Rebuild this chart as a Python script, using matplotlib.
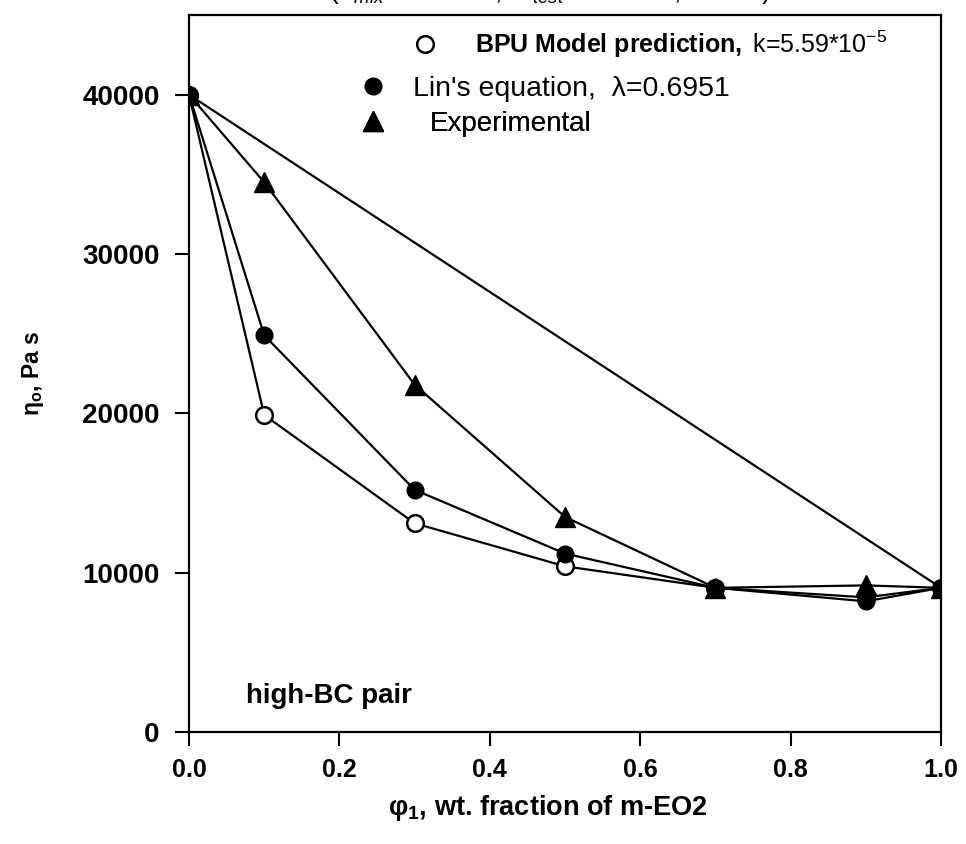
import matplotlib
matplotlib.use('Agg')
import matplotlib.pyplot as plt
from matplotlib.lines import Line2D

# ==========================================
# 数据
# ==========================================
phi = [0.0, 0.1, 0.3, 0.5, 0.7, 0.9, 1.0]
eta_bpu = [40000, 19900, 13100, 10400, 9050, 8450, 9050]
eta_lin = [40000, 24900, 15200, 11200, 9050, 8200, 9050]
eta_exp = [40000, 34500, 21800, 13500, 9050, 9200, 9050]

# 两端直线 (线性加和)
phi_ends = [0.0, 1.0]
eta_ends = [40000, 9050]

x_ticks = [0.0, 0.2, 0.4, 0.6, 0.8, 1.0]
y_ticks = [0, 10000, 20000, 30000, 40000]

label_bpu = r'$\mathbf{BPU\ Model\ prediction,}$ k=5.59*10$^{-5}$'
label_lin = "Lin's equation,  λ=0.6951"
label_exp = 'Experimental'

# 图表全局设置
plt.rcParams['font.family'] = ['Liberation Sans', 'DejaVu Sans']
plt.rcParams['mathtext.fontset'] = 'custom'
plt.rcParams['mathtext.rm'] = 'Liberation Sans'
plt.rcParams['mathtext.it'] = 'Liberation Sans:italic'
plt.rcParams['mathtext.bf'] = 'Liberation Sans:bold'

fig = plt.figure(figsize=(9.66, 8.44), dpi=100)
ax = fig.add_axes([189 / 966, 112 / 844, 752 / 966, 717 / 844])

lw = 1.6
ax.plot(phi_ends, eta_ends, color='black', linewidth=lw, zorder=2)
ax.plot(phi, eta_bpu, color='black', linewidth=lw, marker='o', markersize=12,
        markerfacecolor='white', markeredgecolor='black', markeredgewidth=1.8, zorder=3)
ax.plot(phi, eta_lin, color='black', linewidth=lw, marker='o', markersize=12,
        markerfacecolor='black', markeredgecolor='black', zorder=4)
ax.plot(phi, eta_exp, color='black', linewidth=lw, marker='^', markersize=14,
        markerfacecolor='black', markeredgecolor='black', zorder=5)

ax.set_xlim(0, 1.0)
ax.set_ylim(0, 45000)
ax.set_xticks(x_ticks)
ax.set_xticklabels([f'{v:.1f}' for v in x_ticks])
ax.set_yticks(y_ticks)
ax.tick_params(axis='both', direction='out', length=10, width=1.5)
ax.tick_params(axis='x', pad=9, labelsize=18)
ax.tick_params(axis='y', pad=11, labelsize=20)
for lab in ax.get_xticklabels() + ax.get_yticklabels():
    lab.set_fontweight('bold')
for sp in ax.spines.values():
    sp.set_linewidth(1.6)

ax.set_xlabel('φ$_\\mathbf{1}$, wt. fraction of m-EO2', fontsize=19.5, fontweight='bold')
ax.xaxis.set_label_coords(0.477, -0.085)
ax.set_ylabel('η$_\\mathbf{o}$, Pa s', fontsize=16.5, fontweight='bold')
ax.yaxis.set_label_coords(-0.19, 0.5)

ax.text(0.076, 0.05, 'high-BC pair', transform=ax.transAxes, fontsize=20,
        fontweight='bold', ha='left', va='center')

# 图例 (只有标记，无线条)，三行分别放置
handle_bpu = Line2D([], [], linestyle='none', marker='o', markersize=12, markerfacecolor='white',
                    markeredgecolor='black', markeredgewidth=1.8)
handle_lin = Line2D([], [], linestyle='none', marker='o', markersize=12, markerfacecolor='black',
                    markeredgecolor='black')
handle_exp = Line2D([], [], linestyle='none', marker='^', markersize=14, markerfacecolor='black',
                    markeredgecolor='black')

legend_rows = [
    (handle_bpu, label_bpu, 18, 1.5, (413 - 189) / 752, (732 - 44) / 717),
    (handle_lin, label_lin, 20.5, 0.9, (359 - 189) / 752, (732 - 89) / 717),
    (handle_exp, label_exp, 20, 1.55, (359 - 189) / 752, (732 - 124) / 717),
]
for h, lab, fs, pad, x0, y0 in legend_rows:
    leg = ax.legend([h], [lab], loc='center left', bbox_to_anchor=(x0, y0),
                    frameon=False, fontsize=fs, handlelength=1.0, handletextpad=pad,
                    borderpad=0, borderaxespad=0)
    ax.add_artist(leg)

# 顶部被截断的标题
fig.text(550 / 966, 1 + 1 / 844, r'$(T_{mix}$ = 190 °C,  $T_{test}$ = 190 °C,  $\omega$ = 1)',
         fontsize=19, ha='center', va='baseline')

fig.savefig('out.png', dpi=100)
